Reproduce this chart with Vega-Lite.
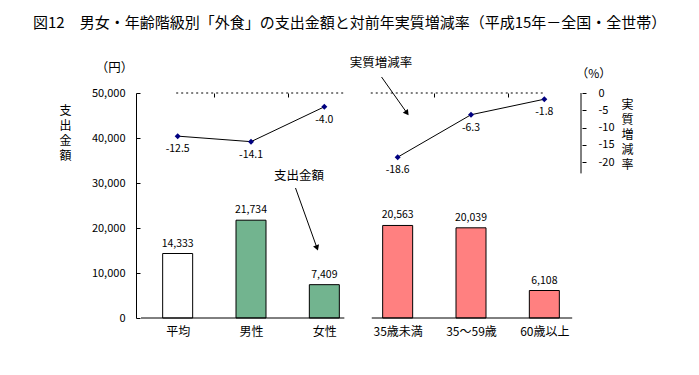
{
  "$schema": "https://vega.github.io/schema/vega-lite/v6.json",
  "width": 450,
  "height": 225,
  "autosize": "none",
  "padding": {"left": 136, "top": 93, "right": 113, "bottom": 57},
  "background": "white",
  "config": {"font": "Noto Sans CJK JP", "view": {"stroke": null}, "axis": {"grid": false}},
  "title": {
    "text": "図12　男女・年齢階級別「外食」の支出金額と対前年実質増減率（平成15年－全国・全世帯）",
    "anchor": "start", "frame": "group", "dx": -103, "offset": 26,
    "fontSize": 15, "fontWeight": "normal", "color": "black"
  },
  "datasets": {
    "bars": [
      {"cat": "平均", "pos": 0.5, "amount": 14333, "grp": "avg"},
      {"cat": "男性", "pos": 1.5, "amount": 21734, "grp": "sex"},
      {"cat": "女性", "pos": 2.5, "amount": 7409, "grp": "sex"},
      {"cat": "35歳未満", "pos": 3.5, "amount": 20563, "grp": "age"},
      {"cat": "35～59歳", "pos": 4.5, "amount": 20039, "grp": "age"},
      {"cat": "60歳以上", "pos": 5.5, "amount": 6108, "grp": "age"}
    ],
    "rates": [
      {"cat": "平均", "pos": 0.5, "rate": -12.5, "label": "-12.5", "seg": "sex"},
      {"cat": "男性", "pos": 1.5, "rate": -14.1, "label": "-14.1", "seg": "sex"},
      {"cat": "女性", "pos": 2.5, "rate": -4.0, "label": "-4.0", "seg": "sex"},
      {"cat": "35歳未満", "pos": 3.5, "rate": -18.6, "label": "-18.6", "seg": "age"},
      {"cat": "35～59歳", "pos": 4.5, "rate": -6.3, "label": "-6.3", "seg": "age"},
      {"cat": "60歳以上", "pos": 5.5, "rate": -1.8, "label": "-1.8", "seg": "age"}
    ]
  },
  "layer": [
    {
      "layer": [
        {
          "data": {"name": "bars"},
          "mark": {"type": "bar", "width": 30, "stroke": "black", "strokeWidth": 1},
          "encoding": {
            "x": {"field": "pos", "type": "quantitative", "scale": {"domain": [0, 6], "nice": false, "zero": false},
              "axis": {"values": [0.5, 1.5, 2.5, 3.5, 4.5, 5.5],
                "labelExpr": "['平均','男性','女性','35歳未満','35～59歳','60歳以上'][floor(datum.value)]",
                "ticks": false, "domain": false, "labelPadding": 8, "labelFontSize": 12, "labelColor": "black", "title": null}},
            "y": {"field": "amount", "type": "quantitative", "scale": {"domain": [0, 50000], "nice": false},
              "axis": {"values": [0, 10000, 20000, 30000, 40000, 50000], "labelExpr": "format(datum.value, ',')", "tickSize": -4, "tickColor": "black",
                "domainColor": "black", "labelPadding": 15, "labelFontSize": 11, "labelColor": "black",
                "title": ["支", "出", "金", "額"], "titleAngle": 0, "titleX": -71, "titleY": 12, "titleAlign": "center",
                "titleBaseline": "top", "titleLineHeight": 15, "titleFontSize": 12, "titleFontWeight": "normal", "titleColor": "black"}},
            "fill": {"field": "grp", "type": "nominal", "scale": {"domain": ["avg", "sex", "age"], "range": ["white", "#72B48F", "#FF8080"]}, "legend": null}
          }
        },
        {
          "data": {"name": "bars"},
          "mark": {"type": "text", "baseline": "bottom", "dy": -5, "fontSize": 10.5, "color": "black"},
          "encoding": {
            "x": {"field": "pos", "type": "quantitative"},
            "y": {"field": "amount", "type": "quantitative"},
            "text": {"field": "amount", "type": "quantitative", "format": ","}
          }
        },
        {
          "data": {"values": [{"from": 0, "to": 2.773}, {"from": 3.147, "to": 5.88}]},
          "mark": {"type": "rule", "color": "black", "strokeWidth": 1},
          "encoding": {
            "x": {"field": "from", "type": "quantitative"},
            "x2": {"field": "to"},
            "y": {"datum": 0, "type": "quantitative"}
          }
        },
        {
          "data": {"values": [
            {"t": "支出金額", "x": 2.153, "y": 31556},
            {"t": "実質増減率", "x": 3.273, "y": 56667},
            {"t": "（円）", "x": -0.36, "y": 55556}
          ]},
          "mark": {"type": "text", "fontSize": 12.5, "color": "black", "baseline": "middle"},
          "encoding": {
            "x": {"field": "x", "type": "quantitative"},
            "y": {"field": "y", "type": "quantitative"},
            "text": {"field": "t"}
          }
        },
        {
          "data": {"values": [
            {"x": 3.28, "y": 53556, "x2": 3.627, "y2": 45556},
            {"x": 2.107, "y": 28889, "x2": 2.4, "y2": 15556}
          ]},
          "mark": {"type": "rule", "color": "black", "strokeWidth": 1},
          "encoding": {
            "x": {"field": "x", "type": "quantitative"},
            "y": {"field": "y", "type": "quantitative"},
            "x2": {"field": "x2"},
            "y2": {"field": "y2"}
          }
        },
        {
          "data": {"values": [{"x": 3.627, "y": 45556}]},
          "mark": {"type": "point", "shape": "triangle-up", "filled": true, "color": "black", "size": 40, "angle": 144, "opacity": 1},
          "encoding": {
            "x": {"field": "x", "type": "quantitative"},
            "y": {"field": "y", "type": "quantitative"}
          }
        },
        {
          "data": {"values": [{"x": 2.4, "y": 15556}]},
          "mark": {"type": "point", "shape": "triangle-up", "filled": true, "color": "black", "size": 40, "angle": 160, "opacity": 1},
          "encoding": {
            "x": {"field": "x", "type": "quantitative"},
            "y": {"field": "y", "type": "quantitative"}
          }
        }
      ]
    },
    {
      "layer": [
        {
          "data": {"name": "rates"},
          "mark": {"type": "line", "color": "black", "strokeWidth": 1},
          "encoding": {
            "x": {"field": "pos", "type": "quantitative", "scale": {"domain": [0, 6], "nice": false, "zero": false},
              "axis": {"values": [1, 2, 4, 5], "labels": false, "domain": false, "ticks": true, "tickSize": -4, "tickColor": "black", "title": null}},
            "y": {"field": "rate", "type": "quantitative", "scale": {"domain": [-65.2, 0], "nice": false, "zero": false},
              "axis": {"orient": "right", "values": [0, -5, -10, -15, -20], "labelExpr": "'' + datum.value", "domain": false, "tickSize": -4, "tickColor": "black",
                "labelPadding": 16, "labelFontSize": 11, "labelColor": "black",
                "title": ["実", "質", "増", "減", "率"], "titleAngle": 0, "titleX": 41, "titleY": 6, "titleAlign": "center",
                "titleBaseline": "top", "titleLineHeight": 15, "titleFontSize": 12, "titleFontWeight": "normal", "titleColor": "black"}},
            "detail": {"field": "seg"}
          }
        },
        {
          "data": {"values": [{"from": 0.48, "to": 2.773}, {"from": 3.133, "to": 5.493}]},
          "mark": {"type": "rule", "color": "black", "strokeWidth": 1, "strokeDash": [2, 3]},
          "encoding": {
            "x": {"field": "from", "type": "quantitative"},
            "x2": {"field": "to"},
            "y": {"datum": 0, "type": "quantitative"}
          }
        },
        {
          "data": {"values": [{"x": 6, "top": 0, "bot": -23.3}]},
          "mark": {"type": "rule", "color": "black", "strokeWidth": 1},
          "encoding": {
            "x": {"field": "x", "type": "quantitative"},
            "y": {"field": "top", "type": "quantitative"},
            "y2": {"field": "bot"}
          }
        },
        {
          "data": {"name": "rates"},
          "mark": {"type": "point", "shape": "diamond", "filled": true, "color": "#000080", "size": 36, "opacity": 1},
          "encoding": {
            "x": {"field": "pos", "type": "quantitative"},
            "y": {"field": "rate", "type": "quantitative"}
          }
        },
        {
          "data": {"name": "rates"},
          "mark": {"type": "text", "baseline": "top", "dy": 8, "fontSize": 10.5, "color": "black"},
          "encoding": {
            "x": {"field": "pos", "type": "quantitative"},
            "y": {"field": "rate", "type": "quantitative"},
            "text": {"field": "label"}
          }
        },
        {
          "data": {"values": [{"t": "（%）", "x": 6.173, "y": 5.5}]},
          "mark": {"type": "text", "fontSize": 12, "color": "black", "baseline": "middle"},
          "encoding": {
            "x": {"field": "x", "type": "quantitative"},
            "y": {"field": "y", "type": "quantitative"},
            "text": {"field": "t"}
          }
        }
      ]
    }
  ],
  "resolve": {"scale": {"y": "independent"}, "axis": {"x": "independent"}}
}
